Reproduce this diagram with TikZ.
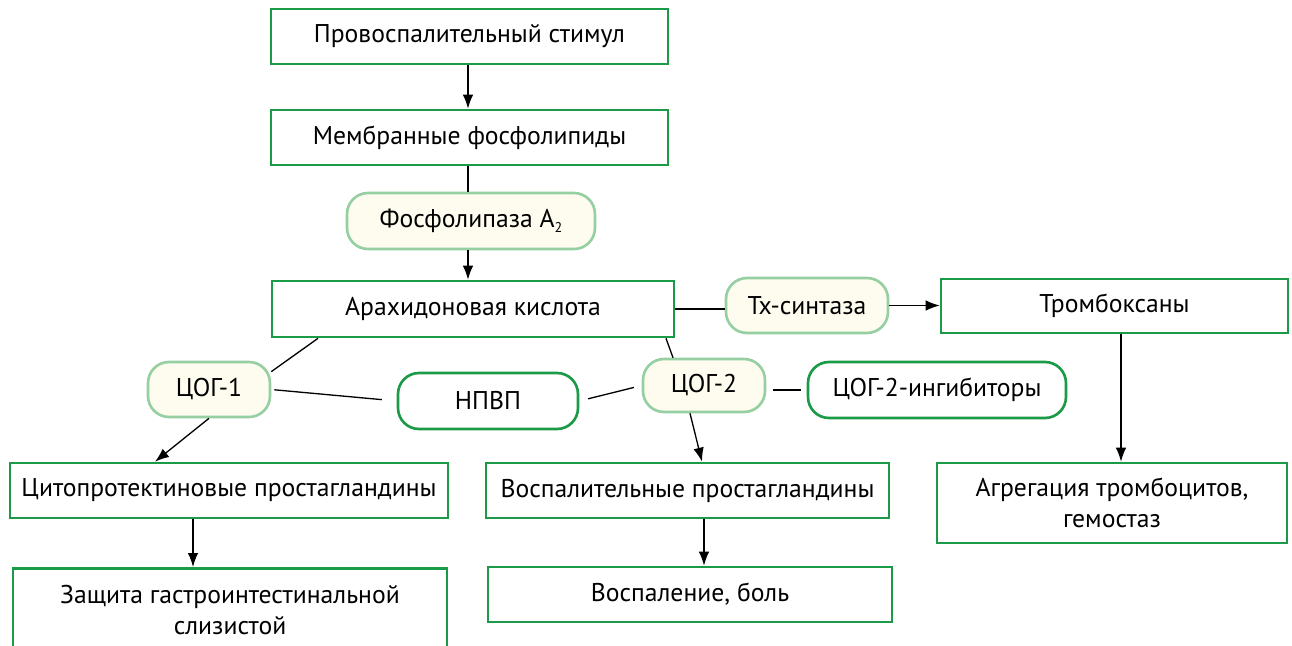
\documentclass[tikz,border=0pt]{standalone}
\usepackage{fontspec}
\setmainfont{PT Sans}
\usetikzlibrary{arrows.meta}
\definecolor{boxgreen}{HTML}{1B9A48}
\definecolor{pillgreen}{HTML}{95CFA2}
\definecolor{pillfill}{HTML}{FEFCEF}
\tikzset{
  base/.style={inner sep=0pt, align=center, font=\fontsize{14.6}{17.8}\selectfont, text=black},
  box/.style={base, draw=boxgreen, line width=1.5pt, fill=white},
  pill/.style={base, draw=pillgreen, fill=pillfill, line width=1.5pt, rounded corners=0.42cm},
  drug/.style={base, draw=boxgreen, fill=white, line width=1.5pt, rounded corners=0.42cm},
  conn/.style={line width=0.75pt, black},
  arr/.style={conn, -{Latex[length=0.28cm,width=0.21cm]}}
}
\begin{document}
\begin{tikzpicture}[x=0.02cm, y=-0.02cm]
\useasboundingbox (0,0) rectangle (1292,646);
\clip (0,0) rectangle (1292,646);
\fill[white] (0,0) rectangle (1292,646);

% nodes
\node[box, minimum width=7.94cm, minimum height=1.10cm] (stim) at (469.5,36.5) {Провоспалительный стимул};
\node[box, minimum width=7.94cm, minimum height=1.10cm] (memb) at (469.5,137.5) {Мембранные фосфолипиды};
\node[pill, minimum width=4.96cm, minimum height=1.12cm] (a2) at (471,221) {Фосфолипаза A\raisebox{-0.35ex}{\footnotesize 2}};
\node[box, minimum width=8.04cm, minimum height=1.12cm] (arach) at (473,309) {Арахидоновая кислота};
\node[pill, minimum width=3.24cm, minimum height=1.10cm] (tx) at (807,305.5) {Tx-синтаза};
\node[box, minimum width=6.94cm, minimum height=1.08cm] (tromb) at (1114.5,306) {Тромбоксаны};
\node[pill, minimum width=2.44cm, minimum height=1.10cm] (cox1) at (209,389.5) {ЦОГ-1};
\node[drug, minimum width=3.60cm, minimum height=1.12cm] (nsaid) at (488,401) {НПВП};
\node[pill, minimum width=2.44cm, minimum height=1.06cm] (cox2) at (704,385.5) {ЦОГ-2};
\node[drug, minimum width=5.16cm, minimum height=1.12cm] (inhib) at (937,390) {ЦОГ-2-ингибиторы};
\node[box, minimum width=8.76cm, minimum height=1.10cm] (cyto) at (229,490.5) {Цитопротектиновые простагландины};
\node[box, minimum width=8.06cm, minimum height=1.10cm] (infl) at (687.5,490.5) {Воспалительные простагландины};
\node[box, minimum width=8.68cm, minimum height=2.60cm, anchor=north] (zash) at (230,567) {};
\node[base] (zashtxt) at (230,610) {Защита гастроинтестинальной\\слизистой};
\node[box, minimum width=8.08cm, minimum height=1.10cm] (pain) at (690,594.5) {Воспаление, боль};
\node[box, minimum width=7.00cm, minimum height=1.60cm] (aggr) at (1112,503) {Агрегация тромбоцитов,\\гемостаз};

% helper x-positions
\coordinate (xa) at (318,0);
\coordinate (xb) at (155,0);
\coordinate (xc) at (666,0);
\coordinate (xd) at (673,0);
\coordinate (xe) at (690,0);
\coordinate (xf) at (702,0);
\coordinate (xg) at (193,0);
\coordinate (xh) at (704,0);
\coordinate (xi) at (1121,0);
\coordinate (xj) at (468,0);

% connectors
\draw[arr] (stim.south -| xj) -- (memb.north -| xj);
\draw[conn] (memb.south -| xj) -- (a2.north -| xj);
\draw[arr] (a2.south -| xj) -- (arach.north -| xj);
\draw[conn] (arach.east) -- (arach.east -| tx.west);
\draw[arr] (tx.east) -- (tx.east -| tromb.west);
\draw[arr] (tromb.south -| xi) -- (aggr.north -| xi);
\draw[conn] (arach.south -| xa) -- (cox1.16);
\draw[arr] (cox1.south) -- (cyto.north -| xb);
\draw[conn, shorten <=0.06cm, shorten >=0.30cm] (cox1.east) -- (nsaid.west);
\draw[conn, shorten <=0.18cm, shorten >=0.16cm] (nsaid.east) -- (cox2.west);
\draw[conn, shorten <=0.14cm, shorten >=0.12cm] (cox2.east |- inhib.west) -- (inhib.west);
\draw[conn] (arach.south -| xc) -- (cox2.north -| xd);
\draw[arr] (cox2.south -| xe) -- (infl.north -| xf);
\draw[arr] (cyto.south -| xg) -- (zash.north -| xg);
\draw[arr] (infl.south -| xh) -- (pain.north -| xh);
\end{tikzpicture}
\end{document}
